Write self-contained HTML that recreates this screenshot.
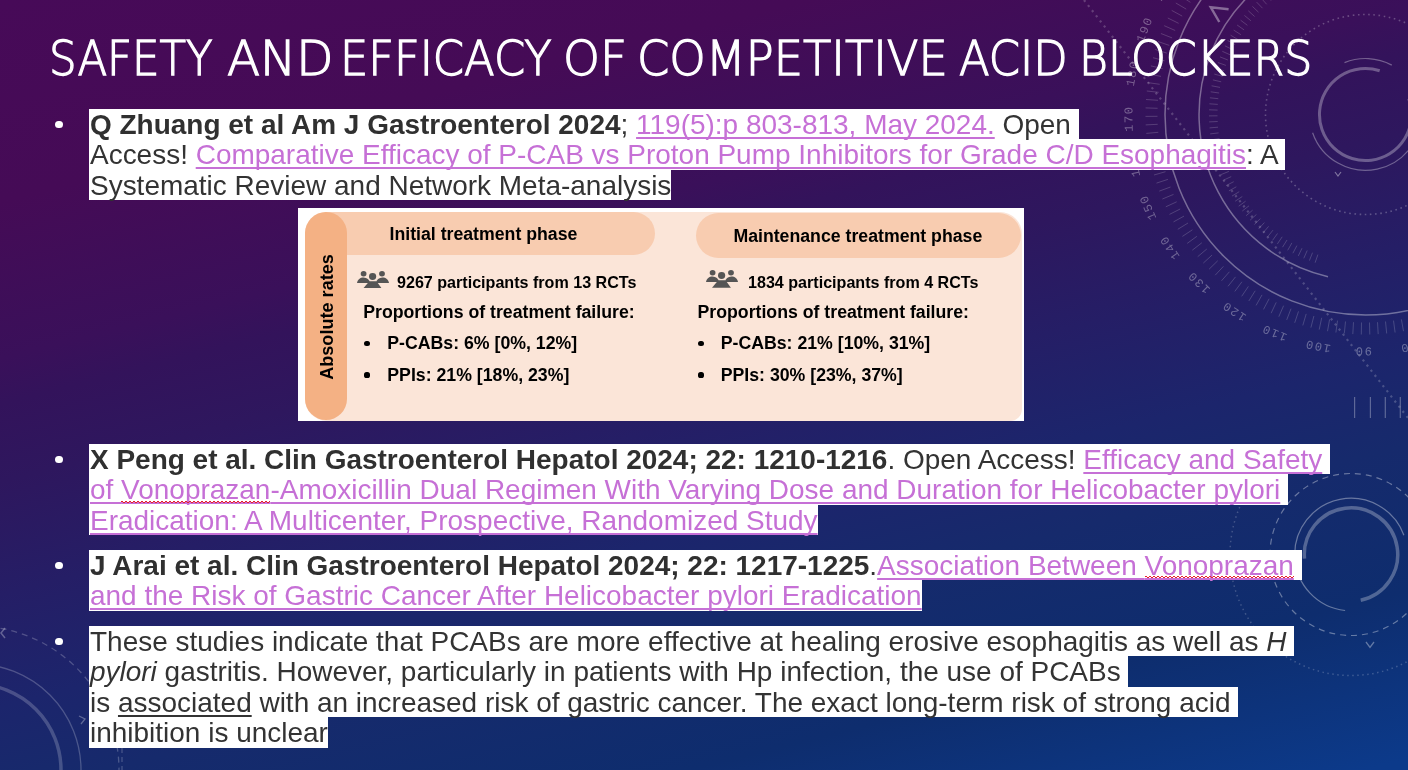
<!DOCTYPE html>
<html lang="en">
<head>
<meta charset="utf-8">
<title>Safety and Efficacy of Competitive Acid Blockers</title>
<style>
html,body{margin:0;padding:0;}
body{width:1408px;height:770px;overflow:hidden;position:relative;
  font-family:"Liberation Sans",Arial,sans-serif;
  background:#2a1a62;}
#bg{position:absolute;left:0;top:0;width:1408px;height:770px;
  background:linear-gradient(166deg,#470a58 0%,#450b56 18%,#3a105a 32%,#33135b 36%,#2e175e 43%,#251e66 53%,#1c256c 63%,#162a6c 71%,#0e2d6e 84%,#0c3a8a 99%);}
#deco{position:absolute;left:0;top:0;width:1408px;height:770px;}
#title{position:absolute;left:0;top:26.4px;width:1408px;height:64px;margin:0;white-space:nowrap;
  font-family:"DejaVu Sans","Liberation Sans",sans-serif;font-weight:200;font-size:48px;line-height:64px;
  color:#fff;-webkit-text-stroke:1.3px #fff;}
#title span{position:absolute;top:0;transform-origin:0 0;}
.b{position:absolute;left:90px;margin:0;z-index:0;font-size:27.98px;color:#333;}
.b .dot{position:absolute;left:-35.1px;top:11.9px;width:7.6px;height:7.6px;border-radius:50%;background:#fff;}
.b .l{display:block;position:relative;width:-moz-fit-content;width:fit-content;height:30.4px;line-height:32.4px;white-space:pre;}
.b .l::before{content:"";position:absolute;left:-1px;top:0;right:0;bottom:0;background:#fff;z-index:-1;}
.b b{font-weight:bold;color:#303030;}
.b a{color:#c670d6;text-decoration:underline;text-underline-offset:2.9px;text-decoration-skip-ink:none;}
.b u{text-underline-offset:2.9px;text-decoration-skip-ink:none;}
.b .sq{position:relative;}
.b .sq::after{content:"";position:absolute;left:0;right:0;top:26.4px;height:2px;background:linear-gradient(90deg,#e8202a 50%,transparent 50%) 0 0/4px 1px repeat-x,linear-gradient(90deg,transparent 50%,#e8202a 50%) 0 1px/4px 1px repeat-x;}
#fig{position:absolute;left:298px;top:208px;width:726px;height:213px;background:#fff;overflow:hidden;font-weight:bold;color:#000;}
#fig .in{position:absolute;left:0;top:0;width:726px;height:213px;filter:blur(0.35px);}
#fig .body{position:absolute;left:7px;top:4px;width:717px;height:208.7px;background:#fbe5d8;border-radius:22px 22px 12px 22px;}
#fig .hl{position:absolute;left:10px;top:4px;width:347px;height:43px;background:#f8ccb0;border-radius:22px;}
#fig .hr{position:absolute;left:398px;top:5px;width:325.4px;height:45px;background:#f8ccb0;border-radius:22.5px;}
#fig .pill{position:absolute;left:7.2px;top:4.4px;width:41.7px;height:208px;background:#f4b184;border-radius:21px;}
#fig .t{position:absolute;line-height:20px;white-space:nowrap;font-size:17.72px;}
#fig .s{font-size:16.1px;}
#fig .d{position:absolute;width:5.2px;height:5.2px;margin:0.2px;border-radius:50%;background:#000;}
#fig .ic{position:absolute;width:32px;height:17.7px;}
#fig .rot{position:absolute;left:29.2px;top:108.8px;width:0;height:0;}
#fig .rot span{position:absolute;left:0;top:0;white-space:nowrap;font-size:18.1px;line-height:20px;transform:translate(-50%,-50%) rotate(-90deg);}
</style>
</head>
<body>
<div id="bg"></div>
<svg id="deco" viewBox="0 0 1408 770">
<g stroke="#fff" fill="none">
<path d="M1408.7,98.8A46,46 0 1 1 1379.7,70.8" stroke-width="3" opacity=".3"/>
<path d="M1344.5,62.6A56,56 0 0 1 1391.8,65.1M1421.3,109.6A56,56 0 0 1 1312.6,132.7" stroke-width="1.2" opacity=".32"/>
<circle cx="1365.5" cy="114.5" r="100" stroke-width="1.6" stroke-dasharray="1.6 3.6" opacity=".25"/>
<path d="M1328.0,276.7A166.5,166.5 0 1 1 1448.8,-29.7" stroke-width="1.5" opacity=".36"/>
<circle cx="1365.5" cy="114.5" r="200.5" stroke-width="1.5" opacity=".36"/>
<path d="M1317.9,254.6L1315.1,262.7M1312.5,252.7L1309.4,260.6M1307.2,250.5L1303.8,258.3M1302.0,248.2L1298.3,255.9M1296.9,245.6L1292.9,253.2M1291.9,242.9L1287.7,250.3M1287.0,240.0L1282.5,247.2M1282.2,236.8L1277.4,243.9M1277.5,233.5L1272.5,240.4M1273.0,230.1L1267.7,236.7M1268.6,226.4L1263.1,232.8M1264.4,222.6L1258.6,228.8M1260.3,218.6L1254.3,224.6M1256.4,214.5L1250.1,220.2M1252.6,210.2L1246.1,215.7M1249.0,205.8L1242.3,211.0M1245.6,201.2L1238.7,206.2M1242.3,196.5L1235.2,201.2M1239.2,191.7L1232.0,196.1M1236.3,186.8L1228.9,190.9M1233.7,181.7L1226.1,185.6M1231.2,176.6L1223.4,180.2M1228.9,171.4L1221.0,174.6M1226.8,166.1L1218.8,169.0M1224.9,160.7L1216.8,163.3M1223.2,155.2L1215.0,157.6M1221.7,149.7L1213.5,151.7M1220.5,144.1L1212.2,145.8M1219.5,138.5L1211.1,139.9M1218.6,132.9L1210.2,133.9M1218.0,127.2L1209.6,127.9M1217.7,121.5L1209.2,121.9M1217.5,115.8L1209.0,115.9M1217.6,110.1L1209.1,109.8M1217.8,104.4L1209.4,103.8M1218.3,98.7L1209.9,97.8M1219.1,93.0L1210.7,91.8M1220.0,87.4L1211.6,85.8M1221.2,81.8L1212.9,79.9M1222.5,76.3L1214.3,74.1M1224.1,70.8L1216.0,68.3M1225.9,65.4L1217.9,62.5M1227.9,60.0L1220.0,56.9M1230.1,54.8L1222.3,51.3M1232.5,49.6L1224.9,45.8M1235.1,44.5L1227.6,40.5M1237.9,39.5L1230.6,35.2M1240.9,34.7L1233.7,30.1M1244.1,29.9L1237.1,25.0M1247.4,25.3L1240.6,20.2M1250.9,20.8L1244.4,15.4M1254.6,16.5L1248.3,10.8M1258.5,12.2L1252.4,6.4M1262.5,8.2L1256.6,2.1M1266.7,4.3L1261.0,-2.0M1271.0,0.6L1265.6,-6.0M1275.5,-3.0L1270.3,-9.7" stroke-width=".9" opacity=".2"/>
<path d="M1409.3,317.8L1411.8,329.6M1401.4,319.4L1403.5,331.2M1393.5,320.6L1395.1,332.5M1385.5,321.5L1386.7,333.5M1377.5,322.2L1378.2,334.1M1369.5,322.5L1369.8,334.5M1361.5,322.5L1361.3,334.5M1353.5,322.2L1352.8,334.1M1345.5,321.5L1344.3,333.5M1337.5,320.6L1335.9,332.5M1329.6,319.4L1327.5,331.2M1321.7,317.8L1319.2,329.6M1313.9,316.0L1310.9,327.6M1306.2,313.9L1302.8,325.4M1298.5,311.4L1294.7,322.8M1291.0,308.7L1286.7,319.9M1283.6,305.7L1278.8,316.7M1276.2,302.4L1271.1,313.2M1269.1,298.8L1263.5,309.4M1262.0,294.9L1256.1,305.4M1255.2,290.8L1248.8,301.0M1248.4,286.4L1241.7,296.3M1241.9,281.8L1234.8,291.4M1235.5,276.9L1228.0,286.3M1229.4,271.8L1221.5,280.8M1223.4,266.4L1215.2,275.2M1217.7,260.8L1209.1,269.2M1212.1,255.0L1203.3,263.1M1206.8,249.0L1197.7,256.7M1201.8,242.8L1192.3,250.2M1196.9,236.3L1187.2,243.4M1192.4,229.8L1182.4,236.4M1188.0,223.0L1177.8,229.3M1184.0,216.1L1173.5,221.9M1180.2,209.0L1169.5,214.4M1176.7,201.8L1165.8,206.8M1173.5,194.4L1162.4,199.0M1170.5,187.0L1159.3,191.1M1167.9,179.4L1156.5,183.1M1165.5,171.7L1154.0,175.0M1163.5,164.0L1151.8,166.8M1161.7,156.1L1150.0,158.5M1160.3,148.3L1148.4,150.2M1159.1,140.3L1147.2,141.8M1158.3,132.3L1146.3,133.4M1157.7,124.3L1145.7,124.9M1157.5,116.3L1145.5,116.4M1157.6,108.3L1145.6,107.9M1158.0,100.3L1146.0,99.5M1158.7,92.3L1146.8,91.0M1159.7,84.3L1147.8,82.6M1161.0,76.4L1149.2,74.2M1162.6,68.6L1150.9,65.9M1164.6,60.8L1153.0,57.7M1166.8,53.1L1155.3,49.5M1169.3,45.4L1158.0,41.5M1172.1,37.9L1160.9,33.5M1175.2,30.5L1164.2,25.7M1178.6,23.3L1167.8,18.0M1182.2,16.1L1171.7,10.4M1186.2,9.1L1175.8,3.0M1190.4,2.3L1180.3,-4.2M1194.8,-4.4L1185.0,-11.2" stroke-width=".9" opacity=".2"/>
<path d="M1219.3,22L1210.7,7.2L1228.6,9.3" stroke-width="2.4" opacity=".38"/>
<path d="M1335,172L1338,176L1341,172" stroke-width="1.2" opacity=".4"/>
<path d="M1084,0L1408,418" stroke-width="2.2" stroke-dasharray="2.2 4.3" opacity=".2"/>
<path d="M1354.6,397V418M1370.4,397V418M1385.3,397V418M1400.3,397V418" stroke-width="1.2" opacity=".3"/>
</g>
<g fill="#fff" opacity=".33" font-family="'Liberation Mono',monospace" font-size="12" letter-spacing="1.6" text-anchor="middle">
<text transform="translate(1407.8,343.6) rotate(169.6)">80</text>
<text transform="translate(1363.1,347.5) rotate(180.6)">90</text>
<text transform="translate(1318.4,342.7) rotate(191.6)">100</text>
<text transform="translate(1275.6,329.5) rotate(202.7)">110</text>
<text transform="translate(1236.1,308.2) rotate(213.8)">120</text>
<text transform="translate(1201.3,279.8) rotate(224.8)">130</text>
<text transform="translate(1172.7,245.3) rotate(235.8)">140</text>
<text transform="translate(1151.2,205.9) rotate(246.9)">150</text>
<text transform="translate(1137.6,163.1) rotate(257.9)">160</text>
<text transform="translate(1132.5,118.6) rotate(269.0)">170</text>
<text transform="translate(1136.1,73.8) rotate(280.1)">180</text>
<text transform="translate(1148.1,30.6) rotate(291.1)">190</text>
<text transform="translate(1168.2,-9.5) rotate(302.1)">200</text>
</g>
<g stroke="#fff" fill="none">
<path d="M1304.5,558.6A46.7,46.7 0 1 1 1360.7,600.2" stroke-width="3.5" opacity=".28"/>
<path d="M1345.1,610.5A56.3,56.3 0 1 1 1403.9,535.2" stroke-width="1.2" opacity=".36"/>
<circle cx="1351" cy="554.5" r="81" stroke-width="1.2" stroke-dasharray="6 5" opacity=".36"/>
<path d="M1464.7,595.9A121,121 0 1 1 1281.6,455.4" stroke-width="1.5" stroke-dasharray="1.5 3.5" opacity=".2"/>
<path d="M1366,642L1370,647.5L1374,642" stroke-width="1.3" opacity=".35"/>
</g>
<g stroke="#fff" fill="none">
<circle cx="-25" cy="770" r="86" stroke-width="3.5" opacity=".2"/>
<circle cx="-25" cy="770" r="106" stroke-width="1.3" opacity=".22"/>
<circle cx="-25" cy="770" r="144" stroke-width="1.3" stroke-dasharray="6 5" opacity=".22"/>
<path d="M5,628L1,633L5,638" stroke-width="1.5" opacity=".3"/>
<path d="M79,716L85,719L81,724" stroke-width="1.3" opacity=".3"/>
<path d="M122,748V770" stroke-width="1.2" stroke-dasharray="5 4" opacity=".22"/>
</g>
</svg>
<h1 id="title"><span style="left:49.3px;transform:scaleX(0.9051)">SAFETY</span> <span style="left:226.9px;transform:scaleX(1.0059)">AND</span> <span style="left:340.0px;transform:scaleX(0.9315)">EFFICACY</span> <span style="left:563.4px;transform:scaleX(0.978)">OF</span> <span style="left:636.9px;transform:scaleX(0.9648)">COMPETITIVE</span> <span style="left:958.5px;transform:scaleX(0.9321)">ACID</span> <span style="left:1078.8px;transform:scaleX(0.9208)">BLOCKERS</span></h1>

<div class="b" style="top:108.8px"><i class="dot"></i>
<span class="l"><b>Q Zhuang et al Am J Gastroenterol 2024</b>; <a>119(5):p 803-813, May 2024.</a> Open </span>
<span class="l">Access! <a>Comparative Efficacy of P-CAB vs Proton Pump Inhibitors for Grade C/D Esophagitis</a>: A </span>
<span class="l">Systematic Review and Network Meta-analysis</span>
</div>

<div id="fig"><div class="in">
<div class="body"></div><div class="hl"></div><div class="hr"></div><div class="pill"></div>
<div class="rot"><span>Absolute rates</span></div>
<span class="t" style="left:91.5px;top:16.2px">Initial treatment phase</span>
<span class="t" style="left:435.4px;top:17.5px">Maintenance treatment phase</span>
<svg class="ic" style="left:59.1px;top:62.8px" viewBox="0 0 32 17.7"><g fill="#555"><ellipse cx="6.6" cy="2.7" rx="2.9" ry="2.7"/><ellipse cx="25" cy="2.7" rx="2.9" ry="2.7"/><path d="M0,11.9C0.5,8.4 3.2,6.4 6.6,6.4C10,6.4 12.4,8.5 13.2,11.9Z"/><path d="M32,11.9C31.5,8.4 28.8,6.4 25.4,6.4C22,6.4 19.6,8.5 18.8,11.9Z"/></g><path fill="#555" d="M12.3,10.2L19.5,10.2L24.9,17.7L6,17.7Z"/><ellipse cx="15.6" cy="5.5" rx="4.6" ry="4.4" fill="#fbe5d8"/><ellipse cx="15.6" cy="5.5" rx="3.6" ry="3.4" fill="#555"/></svg>
<span class="t s" style="left:99px;top:64.2px">9267 participants from 13 RCTs</span>
<svg class="ic" style="left:408px;top:62.3px" viewBox="0 0 32 17.7"><g fill="#555"><ellipse cx="6.6" cy="2.7" rx="2.9" ry="2.7"/><ellipse cx="25" cy="2.7" rx="2.9" ry="2.7"/><path d="M0,11.9C0.5,8.4 3.2,6.4 6.6,6.4C10,6.4 12.4,8.5 13.2,11.9Z"/><path d="M32,11.9C31.5,8.4 28.8,6.4 25.4,6.4C22,6.4 19.6,8.5 18.8,11.9Z"/></g><path fill="#555" d="M12.3,10.2L19.5,10.2L24.9,17.7L6,17.7Z"/><ellipse cx="15.6" cy="5.5" rx="4.6" ry="4.4" fill="#fbe5d8"/><ellipse cx="15.6" cy="5.5" rx="3.6" ry="3.4" fill="#555"/></svg>
<span class="t s" style="left:450px;top:63.5px">1834 participants from 4 RCTs</span>
<span class="t" style="left:65.2px;top:93.9px">Proportions of treatment failure:</span>
<span class="t" style="left:399.5px;top:93.9px">Proportions of treatment failure:</span>
<i class="d" style="left:66.3px;top:132.7px"></i><span class="t" style="left:89.3px;top:125.3px">P-CABs: 6% [0%, 12%]</span>
<i class="d" style="left:66.3px;top:164.2px"></i><span class="t" style="left:89.3px;top:156.9px">PPIs: 21% [18%, 23%]</span>
<i class="d" style="left:400.2px;top:132.7px"></i><span class="t" style="left:422.7px;top:125.3px">P-CABs: 21% [10%, 31%]</span>
<i class="d" style="left:400.2px;top:164.2px"></i><span class="t" style="left:422.7px;top:156.9px">PPIs: 30% [23%, 37%]</span>
</div></div>

<div class="b" style="top:444px"><i class="dot"></i>
<span class="l"><b>X Peng et al. Clin Gastroenterol Hepatol 2024; 22: 1210-1216</b>. Open Access! <a>Efficacy and Safety</a> </span>
<span class="l"><a>of <span class="sq">Vonoprazan</span>-Amoxicillin Dual Regimen With Varying Dose and Duration for Helicobacter pylori</a> </span>
<span class="l"><a>Eradication: A Multicenter, Prospective, Randomized Study</a></span>
</div>

<div class="b" style="top:550px"><i class="dot"></i>
<span class="l"><b>J Arai et al. Clin Gastroenterol Hepatol 2024; 22: 1217-1225</b>.<a>Association Between <span class="sq">Vonoprazan</span></a> </span>
<span class="l"><a>and the Risk of Gastric Cancer After Helicobacter pylori Eradication</a></span>
</div>

<div class="b" style="top:626px"><i class="dot"></i>
<span class="l">These studies indicate that PCABs are more effective at healing erosive esophagitis as well as <i>H</i> </span>
<span class="l"><i>pylori</i> gastritis. However, particularly in patients with Hp infection, the use of PCABs </span>
<span class="l">is <u>associated</u> with an increased risk of gastric cancer. The exact long-term risk of strong acid </span>
<span class="l">inhibition is unclear</span>
</div>
</body>
</html>
